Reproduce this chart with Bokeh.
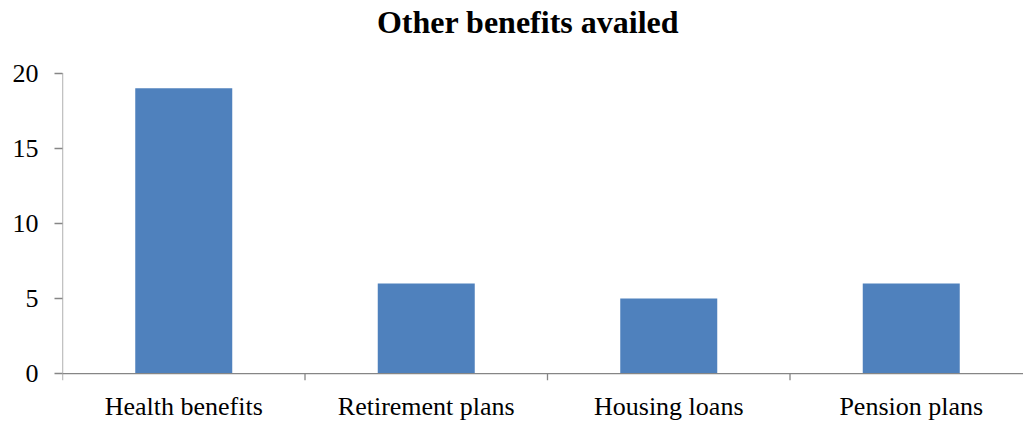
from bokeh.plotting import figure
from bokeh.models import Range1d, FixedTicker, ColumnDataSource
from bokeh.core.properties import value
from bokeh.embed import file_html
from bokeh.resources import INLINE

categories = ["Health benefits", "Retirement plans", "Housing loans", "Pension plans"]
values = [19, 6, 5, 6]
y_ticks = [0, 5, 10, 15, 20]
title_text = "Other benefits availed"

W, H = 1023, 423
left, top, bottom = 62, 73, 41
cat_px = 242.5
x_end = (W - left) / cat_px
px_per_unit = (H - top - bottom - 7) / 20.0
y_start = -7.0 / px_per_unit
y_end = 20 + top / px_per_unit

centers = [i + 0.5 for i in range(len(categories))]
src = ColumnDataSource(dict(x=centers, top=values))

p = figure(width=W, height=H, output_backend="svg", toolbar_location=None,
           x_range=Range1d(0, x_end), y_range=Range1d(y_start, y_end),
           min_border_left=left, min_border_right=0, min_border_top=0,
           min_border_bottom=bottom, outline_line_color=None)

# chart title drawn in the empty band above the value area
p.text(x=[(527.5 - left) / cat_px], y=[20 + (top - 22) / px_per_unit], text=[title_text],
       text_font=value("Liberation Serif"), text_font_size="32px", text_font_style="bold",
       text_align="center", text_baseline="middle", text_color="black")

p.vbar(x="x", top="top", width=0.4, source=src, fill_color="#4F81BD", line_color=None)

# axis lines and category separator ticks
n = len(categories)
p.segment(x0=[0], y0=[0], x1=[n], y1=[0], line_color="#868686", line_width=1.3)
p.segment(x0=[0], y0=[y_start], x1=[0], y1=[20], line_color="#868686", line_width=1.3)
p.segment(x0=list(range(1, n + 1)), y0=[0] * n, x1=list(range(1, n + 1)), y1=[y_start] * n,
          line_color="#868686", line_width=1.3)

p.grid.visible = False

xa = p.xaxis[0]
xa.ticker = FixedTicker(ticks=centers)
xa.major_label_overrides = {c: lab for c, lab in zip(centers, categories)}
xa.axis_line_color = None
xa.major_tick_line_color = None
xa.minor_tick_line_color = None
xa.major_label_standoff = 5
xa.major_label_text_font = "Liberation Serif"
xa.major_label_text_font_size = "26px"
xa.major_label_text_color = "black"

ya = p.yaxis[0]
ya.ticker = FixedTicker(ticks=y_ticks)
ya.axis_line_color = None
ya.major_tick_line_color = "#868686"
ya.major_tick_line_width = 1.3
ya.major_tick_out = 8
ya.major_tick_in = 0
ya.minor_tick_line_color = None
ya.major_label_standoff = 16
ya.major_label_text_font = "Liberation Serif"
ya.major_label_text_font_size = "26px"
ya.major_label_text_color = "black"

open("out.html", "w").write(file_html(p, INLINE))
